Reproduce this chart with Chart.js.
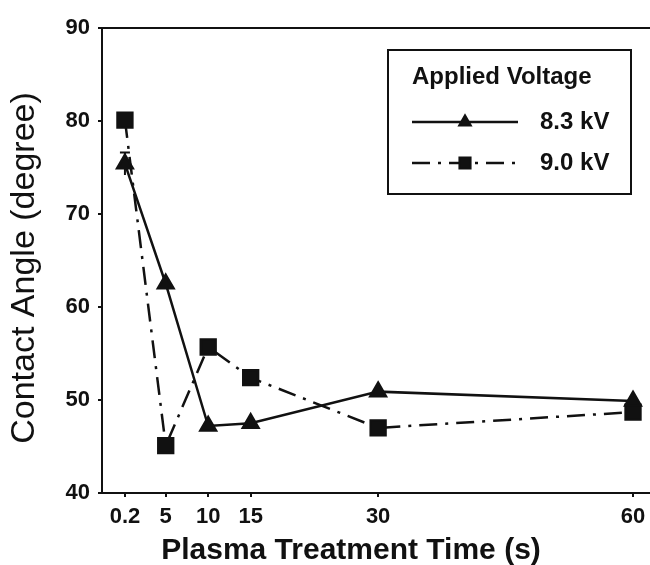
<!DOCTYPE html>
<html>
<head>
<meta charset="utf-8">
<script src="https://cdn.jsdelivr.net/npm/chart.js@4.4.1/dist/chart.umd.min.js"></script>
<style>
  html, body { margin: 0; padding: 0; background: #fff; }
  #wrap { width: 650px; height: 565px; }
</style>
</head>
<body>
<div id="wrap"><canvas id="chart" width="650" height="565"></canvas></div>
<script>
const times = [0.2, 5, 10, 15, 30, 60];
const angle83 = [75.4, 62.5, 47.2, 47.5, 50.9, 49.9];
const err83 = [1.2, 0, 0, 0, 0, 0];
const angle90 = [80.1, 45.1, 55.7, 52.4, 47.0, 48.7];
const xTicks = [0.2, 5, 10, 15, 30, 60];
const yTicks = [40, 50, 60, 70, 80, 90];

const ink = "#111";
const font = "'Liberation Sans', Arial, sans-serif";

const ctx = document.getElementById("chart");

// frame line along the top of the plot area
const topBorder = {
  id: "topBorder",
  afterDraw(chart) {
    const { ctx, chartArea } = chart;
    ctx.save();
    ctx.strokeStyle = ink;
    ctx.lineWidth = 2;
    ctx.beginPath();
    ctx.moveTo(chartArea.left - 1, chartArea.top);
    ctx.lineTo(chartArea.right, chartArea.top);
    ctx.stroke();
    ctx.restore();
  },
};

// vertical error bars with caps
const errorBars = {
  id: "errorBars",
  beforeDatasetsDraw(chart) {
    const { ctx } = chart;
    const xs = chart.scales.x;
    const ys = chart.scales.y;
    ctx.save();
    ctx.strokeStyle = ink;
    ctx.lineWidth = 2;
    times.forEach((t, i) => {
      const e = err83[i];
      if (!e) return;
      const x = xs.getPixelForValue(t);
      const y1 = ys.getPixelForValue(angle83[i] + e);
      const y0 = ys.getPixelForValue(angle83[i] - e);
      ctx.beginPath();
      ctx.moveTo(x, y0);
      ctx.lineTo(x, y1);
      ctx.moveTo(x - 5, y1);
      ctx.lineTo(x + 5, y1);
      ctx.stroke();
    });
    ctx.restore();
  },
};

// boxed legend inside the plot plus the two axis titles
const boxLegend = {
  id: "boxLegend",
  afterDraw(chart) {
    const { ctx } = chart;
    ctx.save();
    ctx.strokeStyle = ink;
    ctx.lineWidth = 2;
    ctx.strokeRect(388, 50, 243, 144);

    ctx.fillStyle = ink;
    ctx.textBaseline = "middle";
    ctx.textAlign = "left";
    ctx.font = `bold 24px ${font}`;
    ctx.fillText("Applied Voltage", 412, 77);

    const rows = [122, 163];
    chart.data.datasets.forEach((ds, i) => {
      const y = rows[i];
      ctx.save();
      ctx.strokeStyle = ds.borderColor;
      ctx.lineWidth = ds.borderWidth;
      ctx.setLineDash(ds.borderDash || []);
      ctx.beginPath();
      ctx.moveTo(412, y);
      ctx.lineTo(518, y);
      ctx.stroke();
      ctx.restore();
      ctx.fillStyle = ds.backgroundColor;
      ctx.strokeStyle = ds.borderColor;
      Chart.helpers.drawPoint(
        ctx,
        { pointStyle: ds.pointStyle, radius: ds.pointRadius * 0.75, rotation: 0, borderWidth: 1 },
        465,
        y
      );
      ctx.fillStyle = ink;
      ctx.font = `bold 24px ${font}`;
      ctx.fillText(ds.label, 540, y);
    });

    ctx.font = `bold 30px ${font}`;
    ctx.textAlign = "center";
    ctx.fillText("Plasma Treatment Time (s)", 351, 551);

    ctx.translate(25, 268);
    ctx.rotate(-Math.PI / 2);
    ctx.font = `34px ${font}`;
    ctx.fillText("Contact Angle (degree)", 0, 0);
    ctx.restore();
  },
};

new Chart(ctx, {
  type: "line",
  data: {
    datasets: [
      {
        label: "8.3 kV",
        data: times.map((t, i) => ({ x: t, y: angle83[i] })),
        borderColor: ink,
        backgroundColor: ink,
        borderWidth: 2.5,
        pointStyle: "triangle",
        pointRadius: 9,
        pointHoverRadius: 9,
        tension: 0,
      },
      {
        label: "9.0 kV",
        data: times.map((t, i) => ({ x: t, y: angle90[i] })),
        borderColor: ink,
        backgroundColor: ink,
        borderWidth: 2.5,
        borderDash: [18, 8, 3, 8],
        pointStyle: "rect",
        pointRadius: 10.5,
        pointHoverRadius: 10.5,
        tension: 0,
      },
    ],
  },
  options: {
    responsive: false,
    animation: false,
    layout: { autoPadding: false, padding: { top: 28, right: 0, bottom: 0, left: 0 } },
    plugins: {
      legend: { display: false },
      tooltip: { enabled: false },
    },
    scales: {
      x: {
        type: "linear",
        min: -2.5,
        max: 62,
        afterBuildTicks: (s) => { s.ticks = xTicks.map((v) => ({ value: v })); },
        afterFit: (s) => {
          s.height = 72;
          s.paddingLeft = 0;
          s.paddingRight = 0;
        },
        grid: { drawOnChartArea: false, drawTicks: true, tickLength: 4, color: ink, lineWidth: 2 },
        border: { display: true, color: ink, width: 2 },
        ticks: {
          color: ink,
          padding: 7,
          font: { family: font, size: 22, weight: "bold" },
          callback: (v) => String(v),
          maxRotation: 0,
          autoSkip: false,
        },
      },
      y: {
        min: 40,
        max: 90,
        afterBuildTicks: (s) => { s.ticks = yTicks.map((v) => ({ value: v })); },
        afterFit: (s) => {
          s.width = 102;
          s.paddingTop = 0;
          s.paddingBottom = 0;
        },
        grid: { drawOnChartArea: false, drawTicks: true, tickLength: 4, color: ink, lineWidth: 2 },
        border: { display: true, color: ink, width: 2 },
        ticks: {
          color: ink,
          padding: 8,
          font: { family: font, size: 22, weight: "bold" },
        },
      },
    },
  },
  plugins: [topBorder, errorBars, boxLegend],
});
</script>
</body>
</html>
